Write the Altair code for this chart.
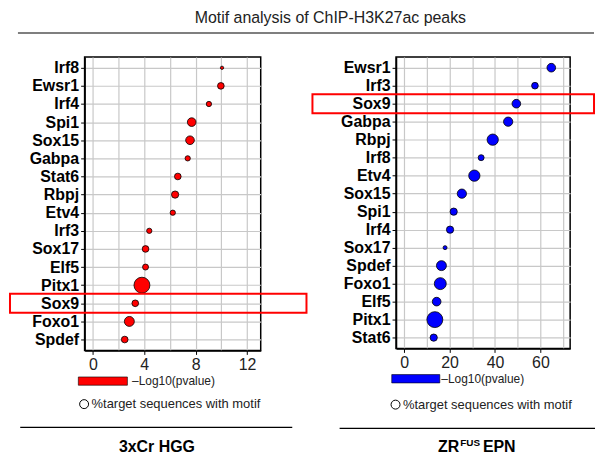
import altair as alt
import pandas as pd

FONT = "Liberation Sans"

# ---- data ----
hgg_motifs = ["Irf8", "Ewsr1", "Irf4", "Spi1", "Sox15", "Gabpa", "Stat6", "Rbpj",
              "Etv4", "Irf3", "Sox17", "Elf5", "Pitx1", "Sox9", "Foxo1", "Spdef"]
hgg_logp = [10.05, 9.96, 9.03, 7.69, 7.56, 7.38, 6.61, 6.40,
            6.22, 4.39, 4.10, 4.10, 3.82, 3.30, 2.84, 2.48]
hgg_pct = [1.7, 7.0, 4.4, 11.8, 11.8, 4.4, 7.0, 8.3,
           4.4, 4.4, 7.0, 5.6, 40.0, 7.0, 15.6, 7.0]

epn_motifs = ["Ewsr1", "Irf3", "Sox9", "Gabpa", "Rbpj", "Irf8", "Etv4", "Sox15",
              "Spi1", "Irf4", "Sox17", "Spdef", "Foxo1", "Elf5", "Pitx1", "Stat6"]
epn_logp = [64.8, 57.6, 49.4, 45.8, 39.0, 33.9, 30.9, 25.4,
            21.8, 20.2, 18.0, 16.4, 15.9, 14.3, 13.5, 13.0]
epn_pct = [11.8, 7.0, 11.8, 13.5, 20.0, 5.6, 20.0, 13.5,
           8.3, 8.3, 2.5, 15.6, 22.5, 11.8, 40.0, 8.3]

highlight_motif = "Sox9"
title_text = "Motif analysis of ChIP-H3K27ac peaks"
legend_fill_text = "\u2013Log10(pvalue)"
legend_size_text = "%target sequences with motif"

one = pd.DataFrame({"a": [0]})


def deco_text(txt, x, y, size=12, weight="normal", align="left", color="#222", baseline="middle"):
    return alt.Chart(one).mark_text(
        font=FONT, fontSize=size, fontWeight=weight, align=align, baseline=baseline, color=color
    ).encode(x=alt.value(x), y=alt.value(y), text=alt.value(txt))


def deco_rule(x1, x2, y, color="black", width=1.2):
    return alt.Chart(one).mark_rule(color=color, strokeWidth=width).encode(
        x=alt.value(x1), x2=alt.value(x2), y=alt.value(y))


def panel(motifs, logp, pct, color, xdom, grid_vals, label_step, width, height,
          hl_x1, hl_x2, leg):
    df = pd.DataFrame({"motif": motifs, "logp": logp, "pct": pct})
    ysc = alt.Scale(type="point", domain=motifs, padding=0.6)
    xsc = alt.Scale(domain=xdom, nice=False, zero=False)
    x_axis = alt.Axis(
        values=grid_vals, title=None, grid=True, gridColor="#c8c8c8", gridWidth=1.2,
        labelExpr=f"datum.value % {label_step} === 0 ? datum.label : ''",
        tickOpacity={"condition": {"test": f"datum.value % {label_step} === 0", "value": 1}, "value": 0},
        labelFont=FONT, labelFontSize=16, labelColor="#222", tickColor="black",
        tickSize=4, tickWidth=1, domainColor="black", domainWidth=1.5, labelPadding=2,
        labelFlush=False,
    )
    y_axis = alt.Axis(
        title=None, grid=True, gridColor="#c8c8c8", gridWidth=1.2,
        labelFont=FONT, labelFontSize=16, labelFontWeight="bold", labelColor="black",
        tickColor="black", tickSize=4, tickWidth=1, labelPadding=2,
        domainColor="black", domainWidth=1.5,
    )
    y_enc = alt.Y("motif:N", scale=ysc, axis=y_axis)
    points = alt.Chart(df).mark_circle(
        fill=color, stroke="black", strokeWidth=0.8, opacity=1
    ).encode(
        x=alt.X("logp:Q", scale=xsc, axis=x_axis),
        y=y_enc,
        size=alt.Size("pct:Q", scale=alt.Scale(domain=[0, 40], range=[0, 256], zero=True), legend=None),
    )
    hl = alt.Chart(pd.DataFrame({"motif": [highlight_motif]})).mark_bar(
        fillOpacity=0, stroke="#ff0000", strokeWidth=2, height=19
    ).encode(y=y_enc, x=alt.value(hl_x1), x2=alt.value(hl_x2))

    layers = [points, hl]
    # legend: colour bar
    layers.append(alt.Chart(one).mark_rect(fill=color, stroke="black", strokeWidth=0.6).encode(
        x=alt.value(leg["rx1"]), x2=alt.value(leg["rx2"]),
        y=alt.value(leg["ry1"]), y2=alt.value(leg["ry2"])))
    layers.append(deco_text(legend_fill_text, leg["tx"], leg["ty"], size=12))
    # legend: size circle
    layers.append(alt.Chart(one).mark_point(shape="circle", filled=False, stroke="black",
                                            strokeWidth=1, size=81, opacity=1).encode(
        x=alt.value(leg["cx"]), y=alt.value(leg["cy"])))
    layers.append(deco_text(legend_size_text, leg["cx"] + 7.5, leg["cy"], size=13))
    # separator rule
    layers.append(deco_rule(leg["lx1"], leg["lx2"], leg["ly"]))
    layers.extend(leg["extra"])
    return alt.layer(*layers).properties(width=width, height=height)


left_extra = [
    # anchor for page origin
    alt.Chart(one).mark_rect(opacity=0).encode(
        x=alt.value(-75), x2=alt.value(-74), y=alt.value(-47), y2=alt.value(-46)),
    deco_text(title_text, 247, -34, size=16, align="center", baseline="alphabetic"),
    deco_rule(-67, 512, -24, color="#555", width=1.5),
    deco_text("3xCr HGG", 72.7, 392.3, size=16, weight="bold", align="center", color="black"),
]
right_extra = [
    deco_text("ZR", 42.3, 392.3, size=16, weight="bold", color="black"),
    deco_text("FUS", 64.5, 388, size=10, weight="bold", color="black"),
    deco_text("EPN", 87.3, 392.3, size=16, weight="bold", color="black"),
]

left = panel(hgg_motifs, hgg_logp, hgg_pct, "#ff0000", [-0.64, 13.06],
             list(range(0, 13, 2)), 4, 177, 295, -75, 223,
             dict(rx1=-6.3, rx2=43, ry1=321.7, ry2=330, tx=47.7, ty=325.5,
                  cx=-0.5, cy=349, lx1=-64.7, lx2=208.7, ly=372.3, extra=left_extra))
right = panel(epn_motifs, epn_logp, epn_pct, "#0000ff", [-3.6, 73.1],
              list(range(0, 71, 10)), 20, 175, 293, -84, 199,
              dict(rx1=-4.3, rx2=44, ry1=319.3, ry2=327.7, tx=45.5, ty=323.5,
                   cx=-0.5, cy=349.5, lx1=-56.7, lx2=200, ly=373.3, extra=right_extra))

chart = alt.hconcat(left, right, spacing=136, bounds="flush").resolve_scale(
    x="independent", y="independent", size="independent"
).configure_view(stroke="black", strokeWidth=1.5).properties(padding=0)

chart.save("out.html", embed_options={"renderer": "svg", "actions": False})
